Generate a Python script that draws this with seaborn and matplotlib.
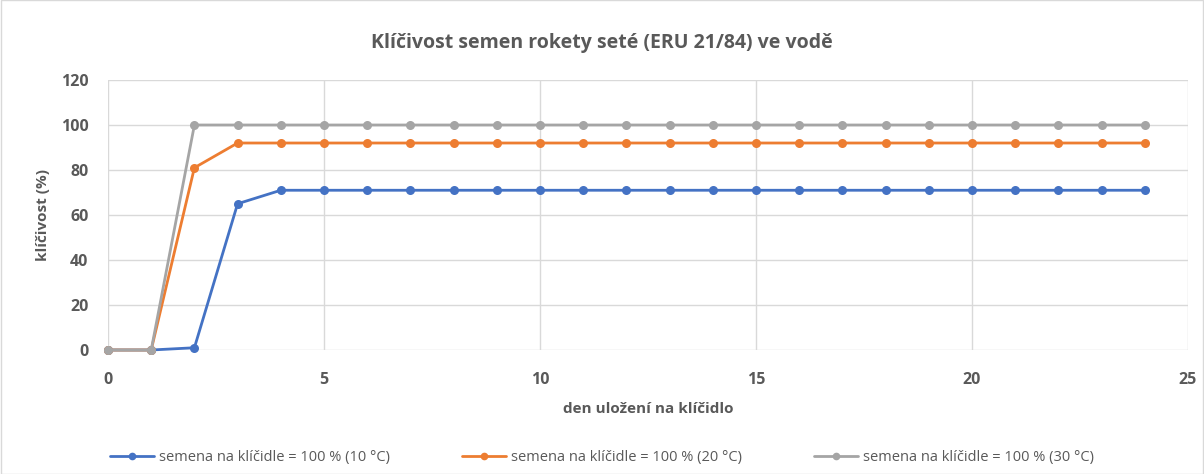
import numpy as np
import pandas as pd
import seaborn as sns
import matplotlib.pyplot as plt
from matplotlib.lines import Line2D

days = list(range(0, 25))
seeds_10 = [0, 0, 1, 65] + [71] * 21
seeds_20 = [0, 0, 81, 92] + [92] * 21
seeds_30 = [0, 0, 100, 100] + [100] * 21
labels = ['semena na klíčidle = 100 % (10 °C)',
          'semena na klíčidle = 100 % (20 °C)',
          'semena na klíčidle = 100 % (30 °C)']
colors = ['#4472C4', '#ED7D31', '#A5A5A5']

df = pd.DataFrame({
    'den': days * 3,
    'klicivost': seeds_10 + seeds_20 + seeds_30,
    'serie': [labels[0]] * 25 + [labels[1]] * 25 + [labels[2]] * 25,
})

sns.set_theme(style='white')
plt.rcParams['font.family'] = ['Open Sans', 'DejaVu Sans']
txt = '#595959'

fig = plt.figure(figsize=(12.04, 4.74), dpi=100)
ax = fig.add_axes([0.0897, 0.2616, 0.8970, 0.5696])

sns.lineplot(data=df, x='den', y='klicivost', hue='serie', palette=colors,
             marker='o', markersize=6.5, markeredgewidth=0, linewidth=2,
             ax=ax, legend=False, clip_on=False)

ax.set_xlim(0, 25)
ax.set_ylim(0, 120)
ax.set_xticks(range(0, 26, 5))
ax.set_yticks(range(0, 121, 20))
ax.grid(True, color='#D9D9D9', linewidth=1)
ax.set_axisbelow(True)
for s in ax.spines.values():
    s.set_visible(False)
ax.tick_params(axis='both', length=0, labelsize=11.5, colors=txt)
ax.tick_params(axis='x', pad=16)
ax.tick_params(axis='y', pad=14)
for t in ax.get_xticklabels() + ax.get_yticklabels():
    t.set_fontweight('bold')
ax.set_xlabel('den uložení na klíčidlo', fontsize=11, fontweight='bold', color=txt, labelpad=10)
ax.set_ylabel('klíčivost (%)', fontsize=11, fontweight='bold', color=txt, labelpad=8)
fig.text(0.5, 0.91, 'Klíčivost semen rokety seté (ERU 21/84) ve vodě',
         ha='center', va='center', fontsize=14, fontweight='bold', color=txt)

handles = [Line2D([], [], color=c, marker='o', markersize=5.5, markeredgewidth=0, linewidth=2)
           for c in colors]
fig.legend(handles, labels, loc='center', bbox_to_anchor=(0.5, 0.035), ncol=3,
           frameon=False, fontsize=10.5, labelcolor=txt, columnspacing=5,
           handlelength=3, handletextpad=0.3)

fig.patches.append(plt.Rectangle((0.001, 0.001), 0.998, 0.998, transform=fig.transFigure,
                                 fill=False, edgecolor='#D9D9D9', linewidth=1))
fig.savefig('out.png', dpi=100)
